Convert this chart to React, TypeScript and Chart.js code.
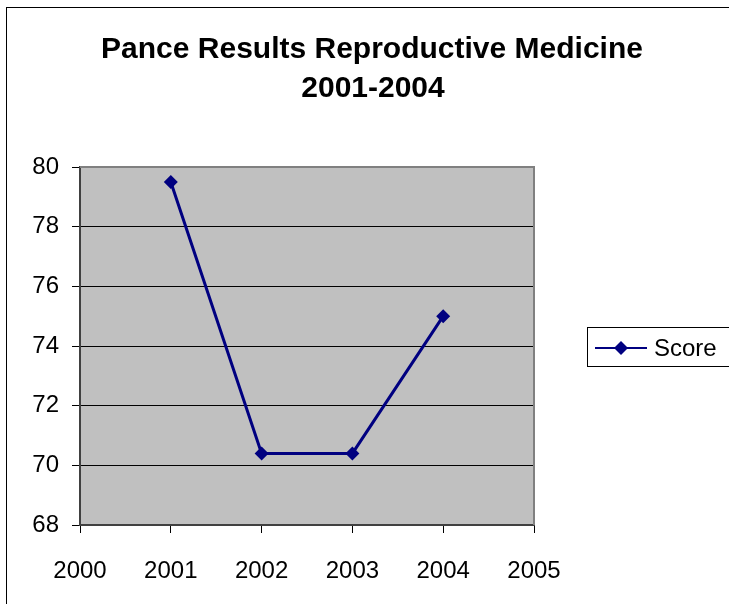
import React, { useEffect, useRef } from "react";
import { Chart, registerables } from "chart.js";

Chart.register(...registerables);

const titleLines = ["Pance Results Reproductive Medicine", "2001-2004"];
const years = [2001, 2002, 2003, 2004];
const scores = [79.5, 70.4, 70.4, 75];
const seriesName = "Score";
const xMin = 2000;
const xMax = 2005;
const yMin = 68;
const yMax = 80;
const yStep = 2;

const NAVY = "#000080";
const FONT = "Arial, 'Liberation Sans', sans-serif";

export default function App() {
  const ref = useRef<HTMLCanvasElement | null>(null);

  useEffect(() => {
    const canvas = ref.current;
    if (!canvas) return;

    const decor = {
      id: "decor",
      beforeDraw(chart: any) {
        const { ctx, chartArea } = chart;
        ctx.save();
        ctx.fillStyle = "#ffffff";
        ctx.fillRect(0, 0, chart.width, chart.height);
        ctx.strokeStyle = "#000000";
        ctx.lineWidth = 1;
        ctx.strokeRect(6.5, 7.5, 900, 900);
        ctx.fillStyle = "#C0C0C0";
        ctx.fillRect(chartArea.left, chartArea.top, chartArea.right - chartArea.left, chartArea.bottom - chartArea.top);
        ctx.restore();
      },
      afterDraw(chart: any) {
        const { ctx, chartArea } = chart;
        ctx.save();
        // plot border top/right
        ctx.strokeStyle = "#808080";
        ctx.lineWidth = 2;
        ctx.beginPath();
        ctx.moveTo(chartArea.left, chartArea.top);
        ctx.lineTo(chartArea.right, chartArea.top);
        ctx.lineTo(chartArea.right, chartArea.bottom);
        ctx.stroke();
        // title
        ctx.fillStyle = "#000000";
        ctx.font = `bold 30px ${FONT}`;
        ctx.textAlign = "center";
        ctx.textBaseline = "alphabetic";
        ctx.fillText(titleLines[0], 372, 58);
        ctx.fillText(titleLines[1], 373, 97);
        // legend
        ctx.strokeStyle = "#000000";
        ctx.lineWidth = 1;
        ctx.strokeRect(587.5, 327.5, 300, 39);
        ctx.strokeStyle = NAVY;
        ctx.lineWidth = 2;
        ctx.beginPath();
        ctx.moveTo(595, 348);
        ctx.lineTo(647, 348);
        ctx.stroke();
        ctx.fillStyle = NAVY;
        ctx.beginPath();
        ctx.moveTo(621, 341);
        ctx.lineTo(628, 348);
        ctx.lineTo(621, 355);
        ctx.lineTo(614, 348);
        ctx.closePath();
        ctx.fill();
        ctx.fillStyle = "#000000";
        ctx.font = `24px ${FONT}`;
        ctx.textAlign = "left";
        ctx.fillText(seriesName, 654, 356);
        ctx.restore();
      },
    };

    const chart = new Chart(canvas, {
      type: "line",
      data: {
        datasets: [
          {
            label: seriesName,
            data: years.map((y, i) => ({ x: y, y: scores[i] })),
            borderColor: NAVY,
            backgroundColor: NAVY,
            borderWidth: 3,
            pointStyle: "rectRot",
            pointRadius: 7,
            pointBorderWidth: 0,
            pointBackgroundColor: NAVY,
            tension: 0,
          },
        ],
      },
      options: {
        responsive: false,
        animation: false,
        layout: { padding: { left: 0, top: 167, right: 195, bottom: 0 } },
        plugins: {
          legend: { display: false },
          title: { display: false },
          tooltip: { enabled: false },
        },
        scales: {
          x: {
            type: "linear",
            min: xMin,
            max: xMax,
            afterFit: (s: any) => { s.height = 79; },
            ticks: {
              stepSize: 1,
              color: "#000",
              font: { family: FONT, size: 24 },
              padding: 24,
              maxRotation: 0,
              callback: (v: any) => String(v),
            },
            grid: { drawOnChartArea: false, drawTicks: true, tickLength: 8, color: "#000" },
            border: { color: "#404040", width: 2 },
          },
          y: {
            min: yMin,
            max: yMax,
            afterFit: (s: any) => { s.width = 80; },
            ticks: {
              stepSize: yStep,
              color: "#000",
              font: { family: FONT, size: 24 },
              padding: 13,
              callback: (v: any) => String(v),
            },
            grid: { color: "#000", lineWidth: 1, drawTicks: true, tickLength: 8 },
            border: { color: "#404040", width: 2 },
          },
        },
      },
      plugins: [decor],
    });
    return () => chart.destroy();
  }, []);

  return (
    <div style={{ position: "absolute", left: 0, top: 0, width: 729, height: 604 }}>
      <canvas ref={ref} width={729} height={604} />
    </div>
  );
}
